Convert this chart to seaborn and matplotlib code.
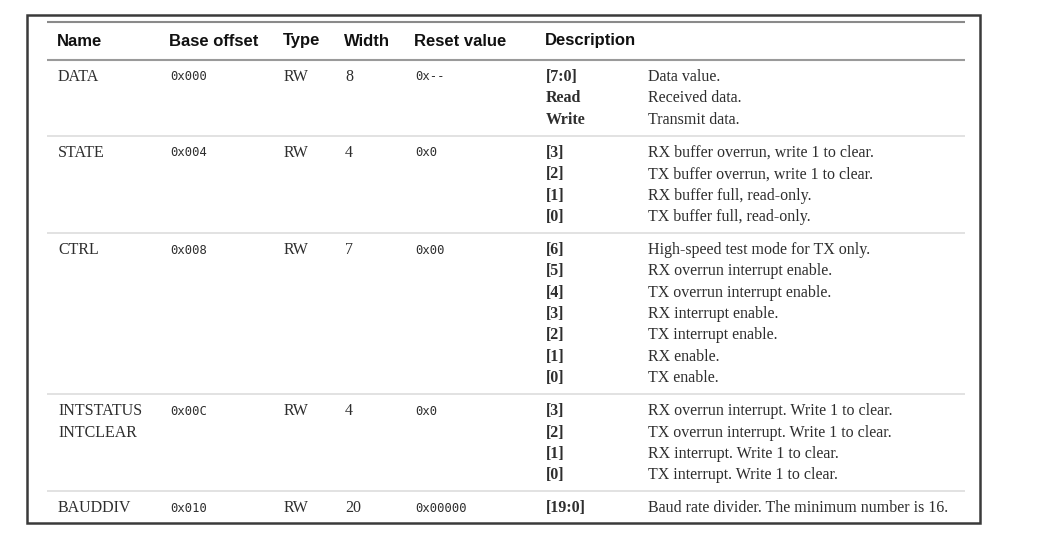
import matplotlib
matplotlib.use("Agg")
import matplotlib.pyplot as plt
import matplotlib.patches as mpatches
import seaborn as sns

# register table data
headers = ['Name', 'Base offset', 'Type', 'Width', 'Reset value', 'Description']
names = [['DATA'], ['STATE'], ['CTRL'], ['INTSTATUS', 'INTCLEAR'], ['BAUDDIV']]
offsets = ['0x000', '0x004', '0x008', '0x00C', '0x010']
types = ['RW', 'RW', 'RW', 'RW', 'RW']
widths = ['8', '4', '7', '4', '20']
resets = ['0x--', '0x0', '0x00', '0x0', '0x00000']
bits = [
    ['[7:0]', 'Read', 'Write'],
    ['[3]', '[2]', '[1]', '[0]'],
    ['[6]', '[5]', '[4]', '[3]', '[2]', '[1]', '[0]'],
    ['[3]', '[2]', '[1]', '[0]'],
    ['[19:0]'],
]
descs = [
    ['Data value.', 'Received data.', 'Transmit data.'],
    ['RX buffer overrun, write 1 to clear.', 'TX buffer overrun, write 1 to clear.',
     'RX buffer full, read-only.', 'TX buffer full, read-only.'],
    ['High-speed test mode for TX only.', 'RX overrun interrupt enable.',
     'TX overrun interrupt enable.', 'RX interrupt enable.', 'TX interrupt enable.',
     'RX enable.', 'TX enable.'],
    ['RX overrun interrupt. Write 1 to clear.', 'TX overrun interrupt. Write 1 to clear.',
     'RX interrupt. Write 1 to clear.', 'TX interrupt. Write 1 to clear.'],
    ['Baud rate divider. The minimum number is 16.'],
]

sns.set_theme(style="white")

# column x positions (pixels)
col_x = [58, 170, 284, 345, 415, 546]
desc_x = 648
line_x0, line_x1 = 47, 965
line_h = 21.3
pad = 12

fig = plt.figure(figsize=(10.56, 5.4), dpi=100)
ax = fig.add_axes([0, 0, 1, 1])
ax.set_xlim(0, 1056)
ax.set_ylim(540, 0)
ax.axis('off')

serif = 'Liberation Serif'
sans = 'Liberation Sans'
mono = 'DejaVu Sans Mono'
txt_col = '#2e2e2e'

# outer frame
ax.add_patch(mpatches.Rectangle((27, 15), 953, 508, fill=False,
                                edgecolor='#3a3a3a', linewidth=1.8))

# header
ax.hlines(22, line_x0, line_x1, color='#8a8a8a', linewidth=1.5)
for x, h in zip(col_x, headers):
    ax.text(x - 1, 41, h, fontsize=12, fontweight='bold', family=sans,
            color='#111111', va='center', ha='left')
ax.hlines(60, line_x0, line_x1, color='#9a9a9a', linewidth=1.5)

y_top = 60
for i in range(len(names)):
    n = len(bits[i])
    y0 = y_top + 17
    for k, nm in enumerate(names[i]):
        ax.text(col_x[0], y0 + k * line_h, nm, fontsize=11.5, family=serif,
                color=txt_col, va='center')
    ax.text(col_x[1], y0, offsets[i], fontsize=8.8, family=mono,
            color=txt_col, va='center')
    ax.text(col_x[2], y0, types[i], fontsize=11.5, family=serif,
            color=txt_col, va='center')
    ax.text(col_x[3], y0, widths[i], fontsize=11.5, family=serif,
            color=txt_col, va='center')
    ax.text(col_x[4], y0, resets[i], fontsize=8.8, family=mono,
            color=txt_col, va='center')
    for k in range(n):
        yy = y0 + k * line_h
        ax.text(col_x[5], yy, bits[i][k], fontsize=11.5, family=serif,
                fontweight='bold', color=txt_col, va='center')
        ax.text(desc_x, yy, descs[i][k], fontsize=11.5, family=serif,
                color=txt_col, va='center')
    y_top = y_top + n * line_h + pad
    if i < len(names) - 1:
        ax.hlines(y_top, line_x0, line_x1, color='#dddddd', linewidth=1.2)

fig.savefig('out.png', dpi=100, facecolor='white')
